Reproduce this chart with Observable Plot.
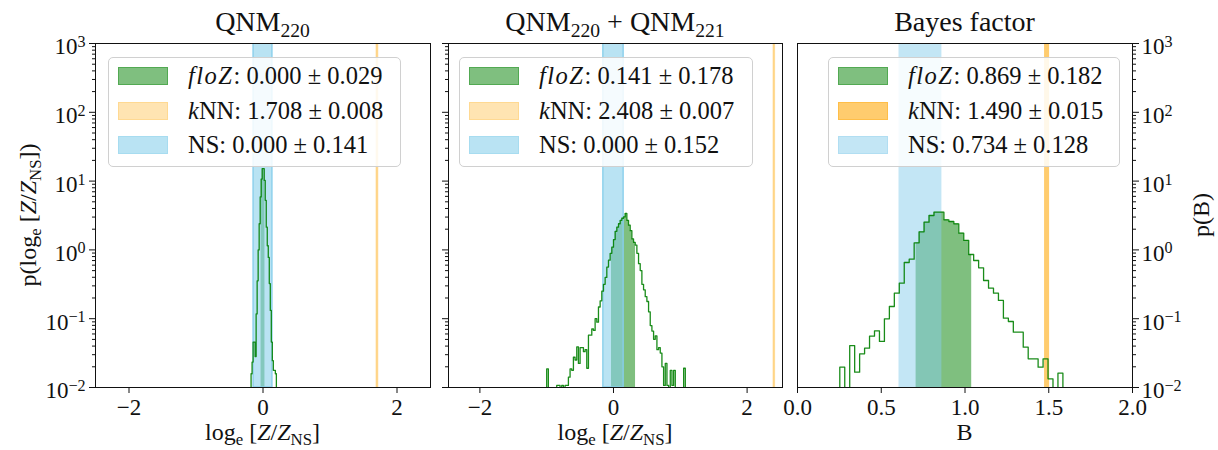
<!DOCTYPE html>
<html>
<head>
<meta charset="utf-8">
<script src="https://cdn.jsdelivr.net/npm/d3@7"></script>
<script src="https://cdn.jsdelivr.net/npm/@observablehq/plot@0.6"></script>
<style>
  body { margin: 0; background: #fff; }
  #root { position: relative; width: 1218px; height: 450px; overflow: hidden;
          font-family: "Liberation Serif", serif; color: #111; }
  .ttl { position: absolute; top: 8px; font-size: 28px; line-height: 28px; white-space: nowrap; transform: translateX(-50%); }
  .xl { position: absolute; top: 424px; font-size: 24px; line-height: 17px; white-space: nowrap; transform: translateX(-50%); }
  .yl { position: absolute; font-size: 24px; line-height: 24px; white-space: nowrap; transform: translate(-50%, -50%) rotate(-90deg); }
  .sub { font-size: 0.7em; position: relative; top: 0.3em; }
  .legend { position: absolute; top: 57px; height: 110px; box-sizing: border-box;
            border: 1px solid #d0d0d0; border-radius: 5px; background: rgba(255,255,255,0.85);
            font-size: 24.5px; padding-top: 1px; }
  .row { height: 34.5px; display: flex; align-items: center; white-space: nowrap; }
  .sw { display: inline-block; width: 50px; height: 18px; margin-left: 9px; margin-right: 20px; box-sizing: border-box; }
  .it { font-style: italic; letter-spacing: 1.5px; }
</style>
</head>
<body>
<div id="root"></div>
<script>
// ---------------- data ----------------
const panelTitles = ["QNM<span class='sub'>220</span>", "QNM<span class='sub'>220</span> + QNM<span class='sub'>221</span>", "Bayes factor"];
const xAxisLabels = ["log<span class='sub'>e</span> [<i>Z</i>/<i>Z</i><span class='sub'>NS</span>]",
                     "log<span class='sub'>e</span> [<i>Z</i>/<i>Z</i><span class='sub'>NS</span>]", "B"];
const yAxisLabels = ["p(log<span class='sub'>e</span> [<i>Z</i>/<i>Z</i><span class='sub'>NS</span>])", "p(B)"];
const legendNames = ["floZ", "kNN", "NS"];

const xTicksQNM = [-2, 0, 2];
const xTicksB = [0, 0.5, 1.0, 1.5, 2.0];
const yDecades = [1e-2, 1e-1, 1e0, 1e1, 1e2, 1e3];

// estimates (mean, error) per panel
const floZ = [[0.000, 0.029], [0.141, 0.178], [0.869, 0.182]];
const kNN  = [[1.708, 0.008], [2.408, 0.007], [1.490, 0.015]];
const NS   = [[0.000, 0.141], [0.000, 0.152], [0.734, 0.128]];
// shaded floZ region under the histogram (as seen in the picture)
const floZFill = [[-0.029, 0.029], [-0.03, 0.33], [0.708, 1.04]];

// histograms: first bin edge, bin width, log10(density) per bin (null = empty bin)
const h1Start = -0.178, h1Width = 0.0151;
const h1LogDensity = [-1.80, -1.63, -1.34, -1.34, -1.55, -0.93, -0.45, 0.0, 0.38, 0.77, 1.03, 1.18, 1.18,
  1.01, 0.72, 0.33, 0.06, -0.11, -0.49, -0.88, -1.34, -1.61, -1.75, -1.75, -1.80];

const h2Start = -1.0, h2Width = 0.025;
const h2LogDensity = [-1.73, null, null, null, null, null, -1.97, -1.97, null, -1.97, null, -1.97, -1.97,
  -1.85, -1.73, -1.75, -1.56, -1.6, -1.41, -1.65, -1.42, -1.42, -1.48, -1.45, -1.72, -1.24, -1.24, -1.15,
  -1.17, -1.0, -1.05, -0.83, -0.74, -0.6, -0.5, -0.4, -0.25, -0.15, -0.05, 0.04, 0.15, 0.27, 0.33, 0.38,
  0.43, 0.46, 0.48, 0.53, 0.43, 0.36, 0.28, 0.16, 0.11, 0.07, -0.05, -0.2, -0.3, -0.5, -0.58, -0.68, -0.75,
  -0.9, -1.1, -1.18, -1.3, -1.25, -1.45, -1.42, -1.5, -1.7, -1.97, -1.65, -1.97, null, -1.75, -1.97, -1.75,
  null, null, null, null, null, -1.72, null];

const h3Start = 0.2525, h3Width = 0.0296;
const h3LogDensity = [-1.705, null, -1.39, -1.777, -1.51, -1.428, -1.254, -1.176, -1.331, -1.002, -0.823,
  -0.629, -0.484, -0.183, -0.135, 0.103, 0.263, 0.403, 0.5, 0.548, 0.548, 0.437, 0.413, 0.379, 0.243, 0.137,
  -0.067, -0.154, -0.26, -0.445, -0.556, -0.629, -0.735, -0.992, -1.041, -1.196, -1.196, -1.414, -1.583,
  -1.583, -1.705, -1.583, -1.874, null, -1.792];

// ---------------- helpers ----------------
const FLOOR = 1e-4;
function bins(start, width, logs) {
  return logs.map((l, i) => ({x0: start + i * width, x1: start + (i + 1) * width, v: l == null ? FLOOR : Math.pow(10, l)}));
}
function stepLine(b) {
  const pts = [{x: b[0].x0, y: FLOOR}];
  for (const d of b) pts.push({x: d.x0, y: d.v});
  pts.push({x: b[b.length - 1].x1, y: FLOOR});
  return pts;
}
function fillPts(b, lo, hi) {
  const at = x => { const d = b.find(d => x >= d.x0 && x < d.x1); return d ? d.v : FLOOR; };
  const pts = [{x: lo, y: at(lo)}];
  for (const d of b) if (d.x0 > lo && d.x0 < hi) pts.push({x: d.x0, y: d.v});
  pts.push({x: hi, y: at(hi - 1e-9)});
  return pts.map(p => ({...p, y1: yDecades[0]}));
}
const minorTicks = yDecades.slice(0, -1).flatMap(d => d3.range(2, 10).map(k => k * d));
const fmtMinus = d => d < 0 ? "\u2212" + Math.abs(d) : String(d);

const hists = [bins(h1Start, h1Width, h1LogDensity), bins(h2Start, h2Width, h2LogDensity), bins(h3Start, h3Width, h3LogDensity)];

const layout = [
  {left: 0,   width: 440, ml: 95, mr: 10, x: [-2.5, 2.5],   xt: xTicksQNM, xf: fmtMinus, yAxis: "left",  yLabels: true,  blueOp: 0.58, blueStroke: true,  orOp: 0.3,  orStroke: true,  legLeft: 108, legW: 293},
  {left: 440, width: 350, ml: 8,  mr: 8,  x: [-2.47, 2.53], xt: xTicksQNM, xf: fmtMinus, yAxis: "left",  yLabels: false, blueOp: 0.58, blueStroke: true,  orOp: 0.3,  orStroke: true,  legLeft: 459, legW: 294},
  {left: 790, width: 428, ml: 7,  mr: 86, x: [0, 2],        xt: xTicksB,   xf: d => d.toFixed(1), yAxis: "right", yLabels: true, blueOp: 0.5, blueStroke: false, orOp: 0.57, orStroke: false, legLeft: 828, legW: 292}
];

const root = document.getElementById("root");

layout.forEach((L, i) => {
  const b = hists[i];
  const band = ([m, e]) => [{x1: m - e, x2: m + e, y1: yDecades[0], y2: yDecades[yDecades.length - 1]}];
  const marks = [
    Plot.areaY(fillPts(b, floZFill[i][0], floZFill[i][1]), {x: "x", y1: "y1", y2: "y", curve: "step-after", fill: "green", fillOpacity: 0.5, clip: true}),
    Plot.rect(band(kNN[i]), {x1: "x1", x2: "x2", y1: "y1", y2: "y2", fill: "orange", fillOpacity: L.orOp,
      stroke: L.orStroke ? "orange" : "none", strokeWidth: 1.6, strokeOpacity: 0.35, clip: true}),
    Plot.rect(band(NS[i]), {x1: "x1", x2: "x2", y1: "y1", y2: "y2", fill: "skyblue", fillOpacity: L.blueOp,
      stroke: L.blueStroke ? "skyblue" : "none", strokeWidth: 1.5, strokeOpacity: 0.9, clip: true}),
    Plot.line(stepLine(b), {x: "x", y: "y", curve: "step-after", stroke: "green", strokeWidth: 1.3, strokeOpacity: 0.9, clip: true}),
    Plot.frame({stroke: "#111", strokeWidth: 1}),
    Plot.axisX({ticks: L.xt, tickFormat: L.xf, tickSize: 6, tickPadding: 5, label: null}),
    Plot.axisY({anchor: L.yAxis, ticks: yDecades, tickSize: 6, tickPadding: L.yAxis === "left" ? 4 : 3,
      tickFormat: L.yLabels ? (d => "10^" + Math.round(Math.log10(d))) : (() => ""), label: null}),
    Plot.axisY({anchor: L.yAxis, ticks: minorTicks, tickSize: 3, tickFormat: () => "", label: null})
  ];
  const svg = Plot.plot({
    width: L.width, height: 450,
    marginLeft: L.ml, marginRight: L.mr, marginTop: 43, marginBottom: 63,
    x: {domain: L.x},
    y: {type: "log", domain: [yDecades[0], yDecades[yDecades.length - 1]]},
    style: {fontFamily: "Liberation Serif", fontSize: "23px", overflow: "visible", background: "none", color: "#111"},
    marks
  });
  svg.style.position = "absolute";
  svg.style.left = L.left + "px";
  svg.style.top = "0px";
  svg.style.maxWidth = "none";
  // superscript exponents
  svg.querySelectorAll("text").forEach(t => {
    const m = t.textContent.match(/^10\^(-?\d+)$/);
    if (!m) return;
    const ns = "http://www.w3.org/2000/svg";
    t.textContent = "";
    const a = document.createElementNS(ns, "tspan");
    a.textContent = "10"; a.setAttribute("dy", "0.15em");
    const s = document.createElementNS(ns, "tspan");
    s.textContent = m[1].replace("-", "\u2212"); s.setAttribute("dy", "-0.45em"); s.setAttribute("font-size", "0.7em");
    t.appendChild(a); t.appendChild(s);
  });
  root.appendChild(svg);

  const cx = L.left + L.ml + (L.width - L.ml - L.mr) / 2;
  const ttl = document.createElement("div");
  ttl.className = "ttl"; ttl.style.left = cx + "px"; ttl.innerHTML = panelTitles[i];
  root.appendChild(ttl);
  const xl = document.createElement("div");
  xl.className = "xl"; xl.style.left = cx + "px"; xl.innerHTML = xAxisLabels[i];
  root.appendChild(xl);

  // legend
  const lg = document.createElement("div");
  lg.className = "legend"; lg.style.left = L.legLeft + "px"; lg.style.width = L.legW + "px";
  const vals = [floZ[i], kNN[i], NS[i]];
  const sw = [
    `background: rgba(0,128,0,0.5); border: 1px solid rgba(0,128,0,0.35);`,
    `background: rgba(255,165,0,${L.orOp}); border: 1px solid rgba(255,165,0,${L.orOp * 0.6});`,
    `background: rgba(135,206,235,${L.blueOp}); border: 1px solid rgba(135,206,235,${L.blueOp * 0.6});`
  ];
  const names = ["<span class='it'>floZ</span>", "<i>k</i>NN", "NS"];
  lg.innerHTML = vals.map((v, k) =>
    `<div class="row"><span class="sw" style="${sw[k]}"></span><span>${names[k]}: ${v[0].toFixed(3)} ± ${v[1].toFixed(3)}</span></div>`).join("");
  root.appendChild(lg);
});

const yl1 = document.createElement("div");
yl1.className = "yl"; yl1.style.left = "29px"; yl1.style.top = "215px"; yl1.innerHTML = yAxisLabels[0];
root.appendChild(yl1);
const yl2 = document.createElement("div");
yl2.className = "yl"; yl2.style.left = "1201px"; yl2.style.top = "215px"; yl2.innerHTML = yAxisLabels[1];
root.appendChild(yl2);
</script>
</body>
</html>
